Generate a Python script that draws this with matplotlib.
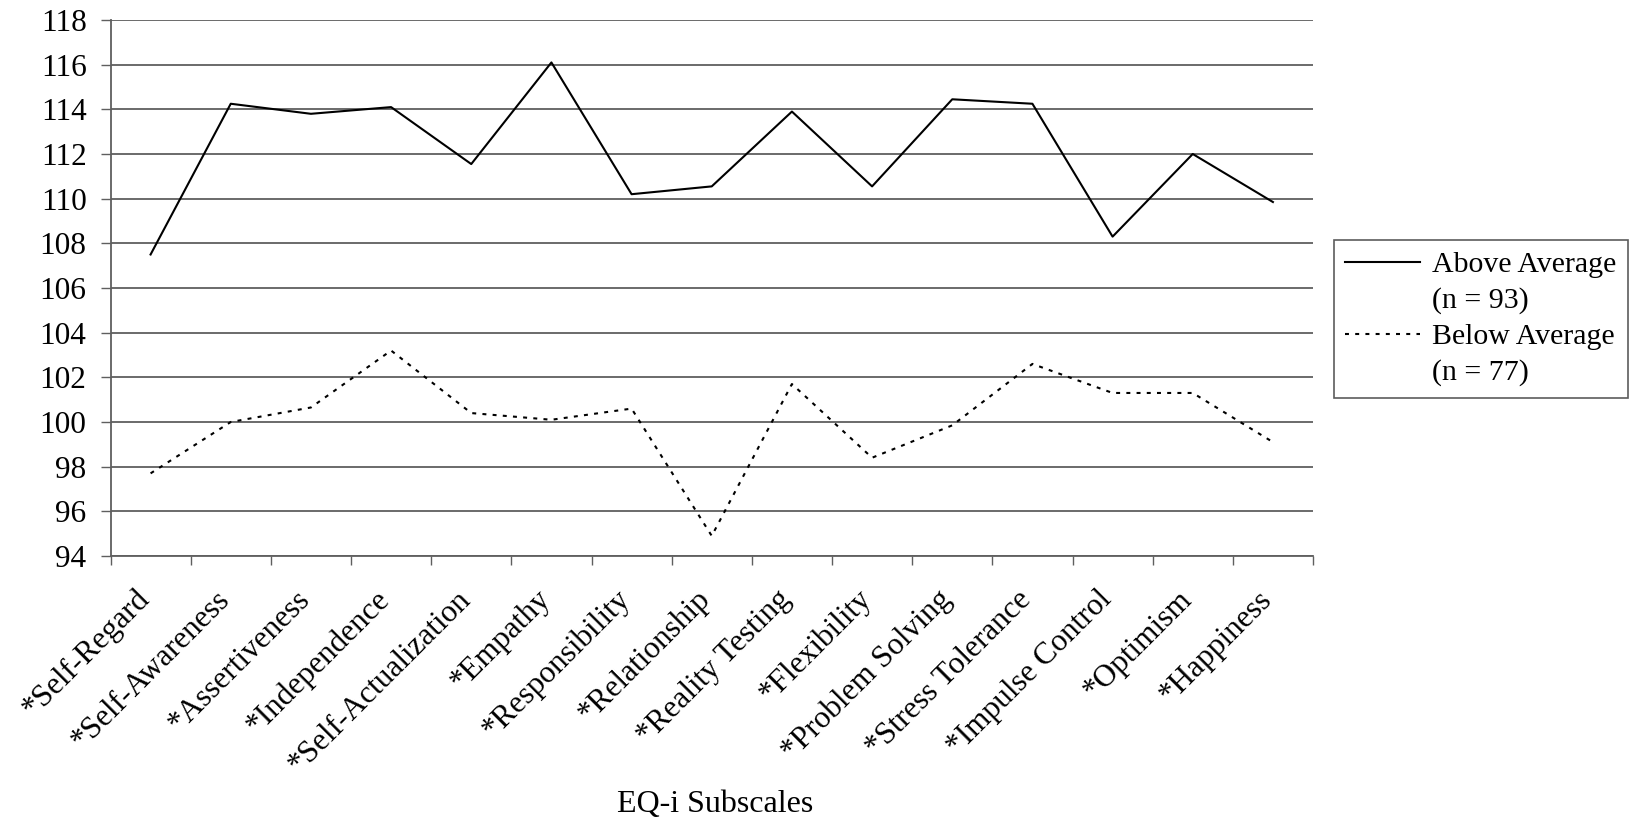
import matplotlib
matplotlib.use("Agg")
import matplotlib.pyplot as plt
from matplotlib.lines import Line2D
import numpy as np

# EQ-i subscale means
subscales = ["*Self-Regard", "*Self-Awareness", "*Assertiveness", "*Independence",
             "*Self-Actualization", "*Empathy", "*Responsibility", "*Relationship",
             "*Reality Testing", "*Flexibility", "*Problem Solving", "*Stress Tolerance",
             "*Impulse Control", "*Optimism", "*Happiness"]
above_avg = [107.5, 114.25, 113.8, 114.1, 111.55, 116.1, 110.2, 110.55,
             113.9, 110.55, 114.45, 114.25, 108.3, 112.0, 109.85]
below_avg = [97.7, 100.0, 100.65, 103.2, 100.4, 100.1, 100.6, 94.9,
             101.7, 98.4, 99.85, 102.6, 101.3, 101.3, 99.1]
yticks = list(range(94, 119, 2))

plt.rcParams['font.family'] = ['Liberation Serif', 'DejaVu Serif']

W, H = 1636, 830
fig = plt.figure(figsize=(W / 100, H / 100), dpi=100)
ax = fig.add_axes([110.5/W, 1-556/H, (1313-110.5)/W, (556-20)/H])

x = np.arange(len(subscales))
l1, = ax.plot(x, above_avg, color='black', linewidth=1.5)
l2, = ax.plot(x, below_avg, color='black', linewidth=1.5, linestyle=(0, (1.9, 3)))

grid_col = '#5f5f5f'
ax.set_ylim(94, 118)
ax.set_yticks(yticks)
ax.tick_params(axis='y', length=7.2, width=1, color=grid_col, pad=10, labelsize=22.5)

ax.set_xlim(-0.5, len(subscales) - 0.5)
ax.set_xticks(x)
ax.set_xticklabels(subscales, rotation=45, ha='right', va='baseline',
                   rotation_mode='anchor', fontsize=22.5)
ax.tick_params(axis='x', which='major', length=0, pad=32)
ax.set_xticks(np.arange(-0.5, len(subscales), 1), minor=True)
ax.tick_params(axis='x', which='minor', length=6.5, width=1, color=grid_col, direction='out')

ax.yaxis.grid(True, color=grid_col, linewidth=1.3)
ax.set_axisbelow(True)
for s in ['top', 'right']:
    ax.spines[s].set_visible(False)
for s in ['left', 'bottom']:
    ax.spines[s].set_color(grid_col)
    ax.spines[s].set_linewidth(1.3)

fig.text(715/W, 1-812/H, "EQ-i Subscales", ha='center', va='baseline', fontsize=23)

# legend: one row per text line, handle on the first line of each entry
blank = Line2D([], [], color='none')
leg = fig.legend([l1, blank, l2, blank],
                 ["Above Average", "(n = 93)", "Below Average", "(n = 77)"],
                 loc='upper left', bbox_to_anchor=(1334/W, 1-240/H),
                 borderaxespad=0, frameon=True, fancybox=False, edgecolor='#333333',
                 fontsize=21.5, handlelength=2.5, labelspacing=0.3,
                 borderpad=0.38, handletextpad=0.4)
leg.get_frame().set_linewidth(1.2)

fig.savefig("out.png", dpi=100)
